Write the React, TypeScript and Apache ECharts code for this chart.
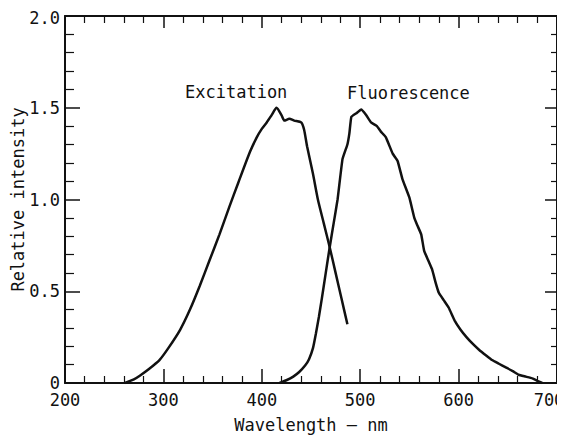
import React, { useEffect, useRef } from "react";
import * as echarts from "echarts";

const excitationNm = [261, 270, 276, 285, 296, 305, 317, 327, 337, 347, 357, 367, 376, 388, 395, 400, 405, 410, 415, 420, 423, 428, 433, 440, 443, 446, 452, 457, 463, 469, 475, 481, 487];
const excitationVal = [0, 0.02, 0.04, 0.075, 0.125, 0.19, 0.29, 0.4, 0.53, 0.67, 0.81, 0.96, 1.09, 1.26, 1.34, 1.385, 1.42, 1.46, 1.5, 1.46, 1.43, 1.44, 1.43, 1.42, 1.38, 1.29, 1.14, 1.0, 0.87, 0.74, 0.6, 0.46, 0.32];

const fluorescenceNm = [418, 425, 432, 438, 444, 448, 452, 455, 458, 461, 465, 469, 473, 477, 482, 487, 489, 491, 496, 501, 506, 511, 517, 521, 526, 533, 538, 543, 550, 555, 558, 562, 565, 569, 573, 577, 580, 585, 590, 596, 602, 608, 615, 621, 628, 634, 641, 648, 655, 661, 668, 675, 680, 685];
const fluorescenceVal = [0, 0.015, 0.035, 0.06, 0.095, 0.13, 0.19, 0.27, 0.36, 0.46, 0.6, 0.74, 0.87, 1.0, 1.22, 1.3, 1.36, 1.45, 1.47, 1.49, 1.46, 1.42, 1.4, 1.37, 1.34, 1.25, 1.21, 1.11, 1.01, 0.9, 0.86, 0.81, 0.72, 0.67, 0.62, 0.54, 0.49, 0.45, 0.41, 0.34, 0.29, 0.25, 0.21, 0.18, 0.15, 0.125, 0.105, 0.085, 0.065, 0.045, 0.035, 0.025, 0.012, 0];

const xMin = 200;
const xMax = 700;
const xStep = 100;
const yMin = 0;
const yMax = 2.0;
const yStep = 0.5;

const seriesNames = ["Excitation", "Fluorescence"];
const xTitle = "Wavelength \u2014 nm";
const yTitle = "Relative intensity";

const FONT = "DejaVu Sans Mono";
const INK = "#111";

export default function App() {
  const ref = useRef<HTMLDivElement>(null);
  useEffect(() => {
    if (!ref.current) return;
    const chart = echarts.init(ref.current, null, { renderer: "svg" });
    const pairs = (xs: number[], ys: number[]) => xs.map((x, i) => [x, ys[i]]);
    const axisLine = { show: true, onZero: false, lineStyle: { color: INK, width: 2 } };
    const txt = { color: INK, fontFamily: FONT, fontSize: 17 };
    const mkX = (pos: "bottom" | "top", labels: boolean, major: number, minor: number, extra: any = {}) => ({
      type: "value",
      position: pos,
      min: xMin,
      max: xMax,
      interval: xStep,
      axisLine,
      axisTick: { show: true, inside: true, length: major, lineStyle: { color: INK, width: 1.5 } },
      minorTick: { show: true, splitNumber: 5, length: minor, lineStyle: { color: INK, width: 1.2 } },
      axisLabel: {
        show: labels,
        ...txt,
        margin: 9,
        lineHeight: 15,
        formatter: (v: number) => (v === xMax ? `{n|${v}}{gap| }` : `${v}`),
        rich: {
          n: { ...txt, lineHeight: 15 },
          gap: { ...txt, lineHeight: 15, width: 16 },
        },
      },
      splitLine: { show: false },
      minorSplitLine: { show: false },
      ...extra,
    });
    const mkY = (pos: "left" | "right", labels: boolean, major: number, minor: number, extra: any = {}) => ({
      type: "value",
      position: pos,
      min: yMin,
      max: yMax,
      interval: yStep,
      axisLine,
      axisTick: { show: true, inside: true, length: major, lineStyle: { color: INK, width: 1.5 } },
      minorTick: { show: true, splitNumber: 5, length: minor, lineStyle: { color: INK, width: 1.2 } },
      axisLabel: {
        show: labels,
        ...txt,
        margin: 5,
        lineHeight: 13,
        formatter: (v: number) =>
          v === 0 ? "{lo|0}" : v === yMax ? `{hi|${v.toFixed(1)}}` : v.toFixed(1),
        rich: {
          lo: { ...txt, lineHeight: 11 },
          hi: { ...txt, lineHeight: 20, verticalAlign: "bottom" },
        },
      },
      splitLine: { show: false },
      minorSplitLine: { show: false },
      ...extra,
    });
    chart.setOption({
      animation: false,
      backgroundColor: "#fff",
      grid: { left: 57, right: 8, top: 8, bottom: 52, containLabel: false, outerBoundsMode: "none" },
      xAxis: [
        mkX("bottom", true, 14, 7, {
          name: xTitle,
          nameLocation: "middle",
          nameGap: 34,
          nameMoveOverlap: false,
          nameTextStyle: { ...txt, lineHeight: 16 },
        }),
        mkX("top", false, 12, 7),
      ],
      yAxis: [
        mkY("left", true, 15, 9, {
          name: yTitle,
          nameLocation: "middle",
          nameGap: 41,
          nameMoveOverlap: false,
          nameTextStyle: { ...txt, lineHeight: 13 },
        }),
        mkY("right", false, 12, 6),
      ],
      series: [
        {
          name: seriesNames[0],
          type: "line",
          data: pairs(excitationNm, excitationVal),
          showSymbol: false,
          smooth: 0.2,
          lineStyle: { color: INK, width: 2.5 },
          z: 3,
        },
        {
          name: seriesNames[1],
          type: "line",
          data: pairs(fluorescenceNm, fluorescenceVal),
          showSymbol: false,
          smooth: 0.1,
          lineStyle: { color: INK, width: 2.5 },
          z: 3,
        },
      ],
      graphic: [
        {
          type: "text",
          left: 177,
          top: 75,
          style: { text: seriesNames[0], fill: INK, font: `17px "${FONT}"` },
        },
        {
          type: "text",
          left: 339,
          top: 76,
          style: { text: seriesNames[1], fill: INK, font: `17px "${FONT}"` },
        },
      ],
    });
    return () => chart.dispose();
  }, []);
  return <div ref={ref} style={{ width: 557, height: 427 }} />;
}
